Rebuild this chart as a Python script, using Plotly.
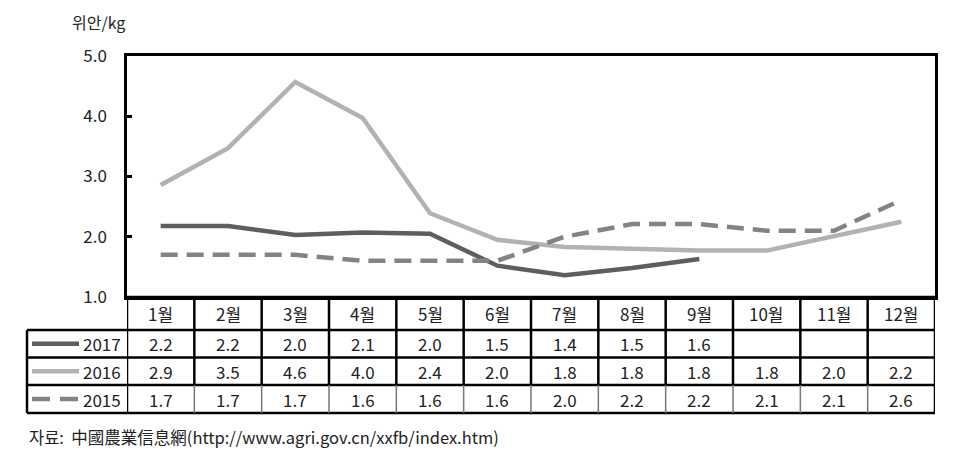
import plotly.graph_objects as go

months = ["1월", "2월", "3월", "4월", "5월", "6월", "7월", "8월", "9월", "10월", "11월", "12월"]
series_names = ["2017", "2016", "2015"]
v2017 = [2.18, 2.18, 2.03, 2.07, 2.05, 1.52, 1.36, 1.48, 1.63, None, None, None]
v2016 = [2.86, 3.47, 4.57, 3.97, 2.39, 1.95, 1.83, 1.80, 1.77, 1.77, 2.01, 2.25]
v2015 = [1.70, 1.70, 1.70, 1.60, 1.60, 1.60, 2.00, 2.21, 2.21, 2.10, 2.10, 2.61]
t2017 = ["2.2", "2.2", "2.0", "2.1", "2.0", "1.5", "1.4", "1.5", "1.6", "", "", ""]
t2016 = ["2.9", "3.5", "4.6", "4.0", "2.4", "2.0", "1.8", "1.8", "1.8", "1.8", "2.0", "2.2"]
t2015 = ["1.7", "1.7", "1.7", "1.6", "1.6", "1.6", "2.0", "2.2", "2.2", "2.1", "2.1", "2.6"]
y_ticks = [1.0, 2.0, 3.0, 4.0, 5.0]
unit_label = "위안/kg"
source_text = "자료:  中國農業信息網(http://www.agri.gov.cn/xxfb/index.htm)"

colors = ["#5e5e5e", "#b2b2b2", "#838383"]
dashes = ["solid", "solid", "17px,9px"]
values = [v2017, v2016, v2015]
texts = [t2017, t2016, t2015]

W, H = 971, 459
L, R, T, B = 127, 935, 56, 297
pw, ph = R - L, B - T

def py(p):  # pixel y -> paper y
    return (B - p) / ph

def px(p):  # pixel x -> paper x
    return (p - L) / pw

idx = list(range(len(months)))
fig = go.Figure()
for name, vals, c, d in zip(series_names, values, colors, dashes):
    fig.add_trace(go.Scatter(x=idx, y=vals, mode="lines", name=name,
                             line=dict(color=c, width=4.5, dash=d),
                             connectgaps=False, showlegend=False))

font_kr = "Noto Sans CJK KR"
shapes = []
ann = []
row_edges = [297, 330, 357.5, 385, 413]
black = dict(color="black", width=2.5)

# horizontal lines
shapes.append(dict(type="line", xref="paper", yref="paper", x0=0, x1=1, y0=py(297), y1=py(297), line=black))
for p in row_edges[1:]:
    shapes.append(dict(type="line", xref="paper", yref="paper", x0=px(27), x1=1, y0=py(p), y1=py(p), line=black))
# vertical lines
shapes.append(dict(type="line", xref="paper", yref="paper", x0=px(27), x1=px(27), y0=py(330), y1=py(413), line=black))
for i in range(len(months) + 1):
    xv = i - 0.5
    shapes.append(dict(type="line", xref="x", yref="paper", x0=xv, x1=xv, y0=py(297), y1=py(385), line=black))
    shapes.append(dict(type="line", xref="x", yref="paper", x0=xv, x1=xv, y0=py(385), y1=py(413),
                       line=dict(color="black" if i in (0, 12) else "#777777", width=2.5 if i in (0, 12) else 1.5)))

cell_font = dict(family=font_kr, size=17, color="#222")
# header
for i, m in enumerate(months):
    ann.append(dict(x=i, y=py((297 + 330) / 2), xref="x", yref="paper", text=m, showarrow=False,
                    xanchor="center", yanchor="middle", font=cell_font))
# rows
for r, (name, tvals, c, d) in enumerate(zip(series_names, texts, colors, dashes)):
    yc = py((row_edges[r + 1] + row_edges[r + 2]) / 2)
    for i, t in enumerate(tvals):
        if t:
            ann.append(dict(x=i, y=yc, xref="x", yref="paper", text=t, showarrow=False,
                            xanchor="center", yanchor="middle", font=cell_font))
    ann.append(dict(x=px(123), y=yc, xref="paper", yref="paper", text=name, showarrow=False,
                    xanchor="right", yanchor="middle", font=cell_font))
    if d == "solid":
        shapes.append(dict(type="line", xref="paper", yref="paper", x0=px(32), x1=px(79), y0=yc, y1=yc,
                           line=dict(color=c, width=4.5)))
    else:
        for a, b in [(32, 50), (60, 78)]:
            shapes.append(dict(type="line", xref="paper", yref="paper", x0=px(a), x1=px(b), y0=yc, y1=yc,
                               line=dict(color=c, width=4.5)))

ann.append(dict(x=0, y=py(22), xref="paper", yref="paper", text=unit_label, showarrow=False,
                xanchor="right", yanchor="middle", font=dict(family=font_kr, size=16, color="#222")))
ann.append(dict(x=px(27), y=py(437), xref="paper", yref="paper", text=source_text, showarrow=False,
                xanchor="left", yanchor="middle", font=dict(family=font_kr, size=16.5, color="#222")))

fig.update_layout(
    width=W, height=H, margin=dict(l=L, r=W - R, t=T, b=H - B),
    plot_bgcolor="white", paper_bgcolor="white",
    shapes=shapes, annotations=ann,
    xaxis=dict(range=[-0.5, 11.5], showgrid=False, zeroline=False, showticklabels=False,
               showline=True, linecolor="black", linewidth=2.5, mirror=True, ticks=""),
    yaxis=dict(range=[1.0, 5.0], tickvals=y_ticks, ticktext=[f"{v:.1f}" for v in y_ticks],
               showgrid=False, zeroline=False, showline=True, linecolor="black", linewidth=2.5, mirror=True,
               ticks="inside", ticklen=5, tickwidth=2.5, tickcolor="black", ticklabelstandoff=14,
               tickfont=dict(family=font_kr, size=17, color="#222")),
)
fig.write_html("out.html")
